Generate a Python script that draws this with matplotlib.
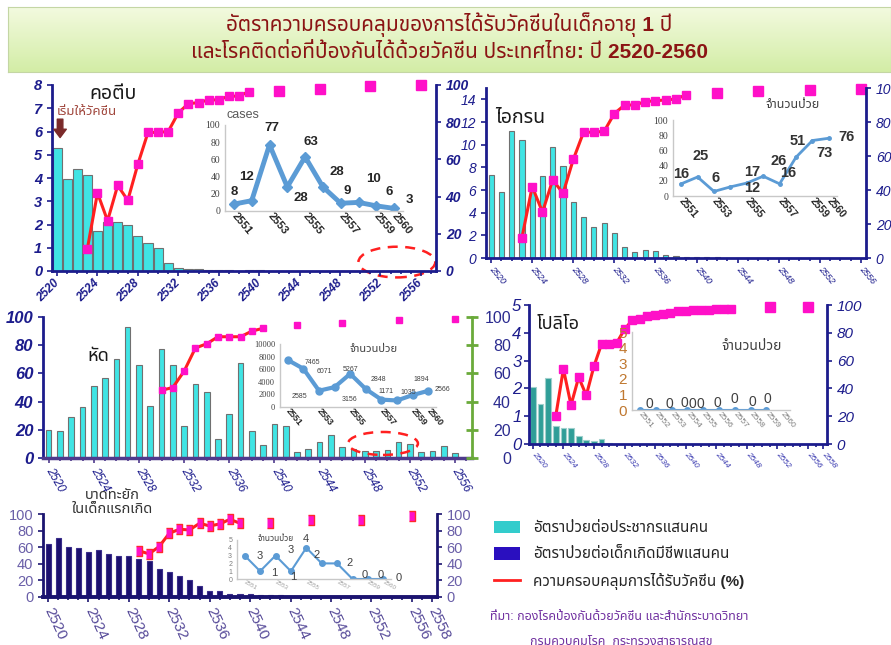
import numpy as np
import matplotlib
matplotlib.use("Agg")
import matplotlib.pyplot as plt
from matplotlib import font_manager
from matplotlib.ft2font import FT2Font
from matplotlib.patches import Ellipse, Patch
from matplotlib.lines import Line2D


def thai_family():
    found = []
    for entry in font_manager.fontManager.ttflist:
        try:
            if 0x0E01 in FT2Font(entry.fname).get_charmap():
                found.append(entry.name)
        except Exception:
            pass
    for pref in ("Noto Sans Thai", "Noto Sans Thai UI", "Loma", "Garuda", "Tlwg Typo"):
        if pref in found:
            return pref
    return found[0] if found else "DejaVu Sans"


TH = thai_family()
plt.rcParams["font.family"] = ["Liberation Sans", TH, "DejaVu Sans"]
NARROW = ["Liberation Sans Narrow", "Liberation Sans", TH]

# ---- incidence rates (bars), 2520-2556 ----
bar_years = list(range(2520, 2557))
dip_rate = [5.3, 3.95, 4.4, 4.15, 1.7, 2.1, 2.1, 2.0, 1.5, 1.2, 1.0, 0.35, 0.12,
            0.08, 0.07, 0.04, 0.03, 0.03, 0.02, 0.05, 0.03, 0.02, 0.02, 0.01, 0.01,
            0.01, 0.01, 0.01, 0.01, 0.01, 0.01, 0.01, 0.02, 0.02, 0.01, 0.01, 0.01]
per_rate = [7.3, 5.85, 11.25, 10.4, 6.1, 7.2, 9.8, 8.1, 4.95, 3.6, 2.75, 3.05, 2.2,
            0.95, 0.55, 0.7, 0.6, 0.25, 0.15, 0.08, 0.05, 0.05, 0.05, 0.03, 0.03,
            0.02, 0.02, 0.02, 0.02, 0.03, 0.02, 0.02, 0.03, 0.02, 0.02, 0.02, 0.02]
mea_rate = [20, 19.3, 29.4, 36.5, 51, 56.5, 70, 93, 66, 37, 77.6, 66, 22.4, 52.5,
            46.6, 13.6, 31, 67.5, 18.8, 9, 24, 23, 4.2, 6.4, 11.3, 16.5, 7.5, 6.6,
            5.2, 4.7, 6, 11, 9.9, 4, 5.2, 8.2, 3.8]
pol_rate = [2.06, 1.44, 2.39, 0.65, 0.56, 0.56, 0.29, 0.14, 0.12, 0.18, 0.02, 0.01,
            0.01, 0, 0, 0, 0, 0, 0, 0, 0, 0, 0, 0, 0, 0, 0, 0, 0, 0, 0, 0, 0, 0,
            0, 0, 0]
nt_rate = [64, 71.6, 60.8, 58.8, 54.8, 56.8, 51.6, 50, 50, 46, 42.8, 33.6, 29.6,
           24.8, 20.8, 13.6, 7.6, 7.6, 4, 3.6, 3.6, 2.8, 2.8, 2.2, 1.8, 1.4, 1.2,
           1.0, 0.8, 0.6, 0.5, 0.4, 0.4, 0.3, 0.3, 0.2, 0.2]

# ---- vaccine coverage (%) ----
dtp_years = list(range(2523, 2540))
dip_cov = [12, 42, 27, 46, 38, 57.5, 74.5, 74.5, 75, 85, 90, 90.5, 92, 92, 94, 94, 96.5]
per_cov = [12, 42, 27, 46, 38, 58, 74, 74, 74.5, 85, 90, 90, 92, 92.5, 93, 93.5, 96]
mea_years = list(range(2530, 2540))
mea_cov = [48, 50, 61.6, 78, 81, 86, 86, 86, 90, 92]
pol_years = list(range(2523, 2547))
pol_cov = [20, 54, 28, 48, 35, 56, 72, 72, 73, 82.5, 89, 89.7, 92, 92.6, 93.3, 94,
           96, 96, 96.4, 96.4, 96.5, 97, 97, 97]
tt_years = list(range(2529, 2540))
tt_cov = [55.6, 52, 60.8, 76.8, 81.6, 80.8, 88.8, 85.6, 88, 93.6, 88.8]

survey_years = [2542, 2546, 2551, 2556]
dip_survey = [97, 98, 99.6, 100]
per_survey = [97, 98, 99, 99.6]
mea_survey = [94, 96, 97.6, 98.4]
tt_survey = [88.8, 92.8, 92.8, 97.6]
pol_survey_years = [2551, 2556]
pol_survey = [98.8, 98.8]

# ---- reported cases 2551-2560 ----
case_years = list(range(2551, 2561))
dip_cases = [8, 12, 77, 28, 63, 28, 9, 10, 6, 3]
per_cases = [16, 25, 6, 12, 17, 26, 16, 51, 73, 76]
mea_cases = [7465, 6071, 2585, 3156, 5267, 2848, 1171, 1035, 1894, 2566]
pol_case_years = list(range(2551, 2560))
pol_cases = [0, 0, 0, 0, 0, 0, 0, 0, 0]
nt_cases = [3, 1, 3, 1, 4, 2, 2, 0, 0, 0]

tick_years = list(range(2520, 2557, 4))
inset_ticks = [2551, 2553, 2555, 2557, 2559, 2560]

NAVY = "#1c1c8c"
PINK = "#ff10c8"
RED = "#ff2020"
CYAN = "#40e4e4"
INSET = "#5b9bd5"
GREY = "#404040"

W, H = 891.0, 645.0
fig = plt.figure(figsize=(8.91, 6.45), dpi=100)


def box(left, top, right, bottom):
    return [left / W, 1 - bottom / H, (right - left) / W, (bottom - top) / H]


def combo(rect, last_year, rates, width, fc, ec, lmax, spine=NAVY):
    ax = fig.add_axes(box(*rect))
    ax.bar(bar_years, rates, width=width, color=fc, edgecolor=ec, linewidth=0.8)
    ax.set_xlim(bar_years[0] - 0.5, last_year + 0.5)
    ax.set_ylim(0, lmax)
    ax.spines["top"].set_visible(False)
    ax.spines["right"].set_visible(False)
    for s in ("left", "bottom"):
        ax.spines[s].set_color(spine)
        ax.spines[s].set_linewidth(2)
    ax.set_xticks(np.arange(bar_years[0], last_year + 1), minor=True)
    ax.tick_params(which="both", color=spine, width=1.2)
    ax.tick_params(which="minor", length=2.5)
    rt = ax.twinx()
    rt.set_ylim(0, 100)
    for s in ("left", "bottom", "top"):
        rt.spines[s].set_visible(False)
    rt.spines["right"].set_color(spine)
    rt.spines["right"].set_linewidth(2)
    rt.tick_params(color=spine, width=1.2)
    return ax, rt


def coverage(rt, years, cov, s_years, s_cov, ms=6, marker="s", mec=PINK):
    rt.plot(years, cov, color=RED, lw=2.2, marker=marker, ms=ms, mfc=PINK, mec=mec,
            zorder=3, clip_on=False)
    rt.plot(s_years, s_cov, ls="none", marker=marker, ms=ms + 0.5, mfc=PINK, mec=mec,
            clip_on=False)


def year_labels(ax, ticks, size, rot, color, pad=3, **kw):
    ax.set_xticks(ticks)
    ax.set_xticklabels([str(t) for t in ticks], fontsize=size, color=color,
                       rotation=rot, rotation_mode="anchor",
                       ha="right" if rot > 0 else "left", va="center", **kw)
    ax.tick_params(axis="x", pad=pad)


def value_labels(ax, ticks, size, color, **kw):
    ax.set_yticks(ticks)
    ax.set_yticklabels([str(t) for t in ticks], fontsize=size, color=color, **kw)


def inset(rect, xlim, ymax, ystep):
    ins = fig.add_axes(box(*rect))
    ins.patch.set_alpha(0)
    ins.set_xlim(*xlim)
    ins.set_ylim(0, ymax)
    for s in ("top", "right"):
        ins.spines[s].set_visible(False)
    for s in ("left", "bottom"):
        ins.spines[s].set_color("#c8c8c8")
        ins.spines[s].set_linewidth(1)
    ins.tick_params(length=0)
    ins.set_yticks(np.arange(0, ymax + 1, ystep))
    return ins


def point_labels(ins, years, vals, offsets, size, color, weight="normal"):
    for yr, v, (dx, dy) in zip(years, vals, offsets):
        ins.annotate(str(v), (yr, v), xytext=(dx, dy), textcoords="offset points",
                     ha="center", va="center", fontsize=size, color=color,
                     fontweight=weight)


# ---- title banner ----
ban = fig.add_axes(box(8, 7, 891, 72))
grad = np.linspace(0, 1, 64).reshape(-1, 1)
ban.imshow(grad, aspect="auto", extent=(0, 1, 0, 1),
           cmap=matplotlib.colors.LinearSegmentedColormap.from_list(
               "band", ["#f3fadf", "#d3eda6"]))
ban.set_xticks([])
ban.set_yticks([])
for s in ban.spines.values():
    s.set_color("#c4d6a4")
ban.text(0.5, 0.73, "อัตราความครอบคลุมของการได้รับวัคซีนในเด็กอายุ 1 ปี",
         ha="center", va="center", fontsize=15, fontweight="bold", color="#8b1414",
         transform=ban.transAxes)
ban.text(0.5, 0.3, "และโรคติดต่อที่ป้องกันได้ด้วยวัคซีน ประเทศไทย: ปี 2520-2560",
         ha="center", va="center", fontsize=15, fontweight="bold", color="#8b1414",
         transform=ban.transAxes)

# ---- diphtheria ----
ax1, rt1 = combo((52, 85, 436, 271), 2557, dip_rate, 0.9, CYAN, "#707070", 8)
coverage(rt1, dtp_years, dip_cov, survey_years, dip_survey)
value_labels(ax1, range(0, 9), 10.5, NAVY, fontweight="bold", fontstyle="italic")
value_labels(rt1, range(0, 101, 20), 10, NAVY, fontweight="bold", fontstyle="italic")
year_labels(ax1, tick_years, 8.5, 45, NAVY, pad=4, fontweight="bold", fontstyle="italic")
ax1.text(0.16, 0.95, "คอตีบ", transform=ax1.transAxes, fontsize=14,
         fontweight="bold", color="#1a1a1a", va="center", ha="center")
ax1.annotate("", xy=(2520.3, 5.62), xytext=(2520.3, 6.65),
             arrowprops=dict(arrowstyle="simple,head_width=0.9,head_length=0.6,tail_width=0.4",
                             color="#7b2a2a"))
ax1.text(2520.0, 6.85, "เริ่มให้วัคซีน", fontsize=9.5, color="#a0463c", va="center")
ax1.add_patch(Ellipse((0.898, 0.048), 0.2, 0.165, transform=ax1.transAxes,
                      fill=False, ec="#ff2020", ls=(0, (4, 3)), lw=1.8, clip_on=False))

in1 = inset((225, 125, 403, 211), (2550.5, 2560.5), 100, 20)
in1.plot(case_years, dip_cases, color=INSET, lw=3.5, marker="D", ms=5)
in1.set_yticklabels([str(t) for t in range(0, 101, 20)], fontsize=7, color=GREY,
                    family="Liberation Serif")
year_labels(in1, inset_ticks, 8, -50, "#262626", pad=2, fontweight="bold")
point_labels(in1, case_years, dip_cases,
             [(0, 9), (-4, 17), (2, 12), (10, -8), (4, 11), (10, 11), (5, 9), (11, 17),
              (9, 10), (11, 6)], 9.5, "#262626", "bold")
in1.text(0.01, 1.12, "cases", transform=in1.transAxes, fontsize=9, color="#595959",
         va="center")

# ---- pertussis ----
ax2, rt2 = combo((486, 88, 866, 258), 2556, per_rate, 0.5, CYAN, "#707070", 15)
coverage(rt2, dtp_years, per_cov, survey_years, per_survey)
value_labels(ax2, range(0, 15, 2), 10, NAVY, fontstyle="italic", family=NARROW)
value_labels(rt2, range(0, 101, 20), 10, NAVY, fontstyle="italic", family=NARROW)
year_labels(ax2, tick_years, 6.5, -50, NAVY, pad=3, fontstyle="italic")
ax2.text(0.09, 0.82, "ไอกรน", transform=ax2.transAxes, fontsize=14,
         color="#1a1a1a", va="center", ha="center", fontweight="bold")

in2 = inset((673, 120, 837, 196), (2550.5, 2560.5), 100, 20)
in2.plot(case_years, per_cases, color=INSET, lw=2, marker="o", ms=2.5)
in2.set_yticklabels([str(t) for t in range(0, 101, 20)], fontsize=7, color=GREY,
                    family="Liberation Serif")
year_labels(in2, inset_ticks, 7.5, -50, "#262626", pad=2, fontweight="bold")
point_labels(in2, case_years, per_cases,
             [(0, 7), (2, 15), (1, 10), (16, -1), (4, 8), (11, 11), (6, 8), (1, 12),
              (9, -9), (13, 1)], 10.5, "#333333", "bold")
in2.text(0.73, 1.2, "จำนวนป่วย", transform=in2.transAxes, fontsize=9,
         color="#404040", va="center", ha="center")

# ---- measles ----
ax3, rt3 = combo((43, 317, 472, 458), 2557, mea_rate, 0.5, CYAN, "#707070", 100)
ax3.spines["bottom"].set_color("#4e3a8c")
ax3.spines["bottom"].set_linewidth(2.5)
ax3.tick_params(axis="x", which="both", color="#4e3a8c")
rt3.spines["right"].set_color("#6aaa3a")
rt3.tick_params(axis="y", color="#6aaa3a", direction="inout", length=8, width=2,
                labelright=False)
rt3.set_yticks(range(0, 101, 20))
coverage(rt3, mea_years, mea_cov, survey_years, mea_survey, ms=4.5)
value_labels(ax3, range(0, 101, 20), 12, NAVY, fontweight="bold", fontstyle="italic")
year_labels(ax3, tick_years, 8.5, -60, NAVY, pad=4, fontstyle="italic")
ax3.text(0.13, 0.72, "หัด", transform=ax3.transAxes, fontsize=13,
         fontweight="bold", color="#1a1a1a", va="center", ha="center")
ax3.add_patch(Ellipse((0.7925, 0.103), 0.163, 0.163, transform=ax3.transAxes,
                      fill=False, ec="#ff2020", ls=(0, (4, 3)), lw=1.8, clip_on=False))

in3 = inset((280, 344, 436, 407), (2550.5, 2560.5), 10000, 2000)
in3.plot(case_years, mea_cases, color=INSET, lw=3, marker="o", ms=5)
in3.set_yticklabels([str(t) for t in range(0, 10001, 2000)], fontsize=6, color=GREY,
                    family="Liberation Serif")
year_labels(in3, inset_ticks, 6.5, -50, "#262626", pad=2, fontweight="bold")
point_labels(in3, case_years, mea_cases,
             [(18, -2), (15, -2), (-14, -4), (11, -9), (0, 3), (9, 7), (3, 6), (8, 6),
              (6, 11), (10, 1)], 5, "#404040")
in3.text(0.6, 0.92, "จำนวนป่วย", transform=in3.transAxes, fontsize=8,
         color="#404040", va="center", ha="center")

# ---- polio ----
ax4, rt4 = combo((529, 305, 827, 444), 2558, pol_rate, 0.75, "#2f9e98", "#9fd0cc", 5)
coverage(rt4, pol_years, pol_cov, pol_survey_years, pol_survey)
value_labels(ax4, range(0, 6), 12, NAVY, fontstyle="italic", family=NARROW)
ax4.tick_params(axis="y", pad=2)
value_labels(rt4, range(0, 101, 20), 11, NAVY, fontstyle="italic", family=NARROW)
year_labels(ax4, tick_years + [2558], 6, -50, "#3a3ab0", pad=3, fontstyle="italic")
ax4.text(0.1, 0.86, "โปลิโอ", transform=ax4.transAxes, fontsize=13,
         color="#1a1a1a", va="center", ha="center")

outer = fig.add_axes(box(529, 317, 827, 458))
outer.patch.set_alpha(0)
outer.set_ylim(0, 100)
outer.set_xticks([])
for s in outer.spines.values():
    s.set_visible(False)
outer.tick_params(axis="y", length=0, pad=13)
value_labels(outer, range(0, 101, 20), 11.5, "#2b2b8f", family=NARROW)

in4 = inset((632, 332, 790, 410), (2550.5, 2560.5), 5, 1)
in4.plot(pol_case_years, pol_cases, color=INSET, lw=1.5, marker="o", ms=4)
in4.set_yticklabels([str(t) for t in range(0, 6)], fontsize=11, color="#c07830")
year_labels(in4, case_years, 6, -50, "#7f7f7f", pad=2)
point_labels(in4, pol_case_years, pol_cases,
             [(7, 4), (10, 4), (9, 5), (4, 4), (-2, 4), (-1, 5), (0, 8), (1, 6),
              (1, 8)], 10, "#404040")
in4.text(0.76, 0.82, "จำนวนป่วย", transform=in4.transAxes, fontsize=10,
         color="#404040", va="center", ha="center")

# ---- neonatal tetanus ----
ax5, rt5 = combo((43, 514, 437, 597), 2558, nt_rate, 0.5, "#1b0f6e", "#3a2d8a", 100,
                 spine="#1b1470")
ax5.spines["bottom"].set_linewidth(2.8)
coverage(rt5, tt_years, tt_cov, survey_years, tt_survey, ms=7,
         marker=[(-0.55, -1), (0.55, -1), (0.55, 1), (-0.55, 1)], mec="#ff2a2a")
value_labels(ax5, range(0, 101, 20), 10.5, "#6a5fa8", family=NARROW)
value_labels(rt5, range(0, 101, 20), 10.5, "#6a5fa8", family=NARROW)
year_labels(ax5, tick_years + [2558], 11, -65, "#574b99", pad=5, family=NARROW)
fig.text(112 / W, 1 - 502 / H, "บาดทะยัก\nในเด็กแรกเกิด", fontsize=10.5,
         color="#333333", ha="center", va="center", linespacing=1.0)

in5 = inset((237, 540, 391, 579), (2550.5, 2560.5), 5, 1)
in5.plot(case_years, nt_cases, color=INSET, lw=1.5, marker="o", ms=4)
in5.set_yticklabels([str(t) for t in range(0, 6)], fontsize=5, color="#7f7f7f")
year_labels(in5, inset_ticks, 4.5, -30, "#9f9f9f", pad=2)
point_labels(in5, case_years, nt_cases,
             [(11, 0), (10, -1), (11, 4), (2, -4), (0, 6), (-4, 6), (9, 0), (9, 3),
              (9, 3), (11, 1)], 8, "#404040")
in5.text(0.25, 1.03, "จำนวนป่วย", transform=in5.transAxes, fontsize=6,
         color="#404040", va="center", ha="center")

# ---- legend and source ----
handles = [Patch(facecolor="#33cccc"), Patch(facecolor="#2a0fbf"),
           Line2D([], [], color="#ff2020", lw=2)]
labels = ["อัตราป่วยต่อประชากรแสนคน", "อัตราป่วยต่อเด็กเกิดมีชีพแสนคน",
          "ความครอบคลุมการได้รับวัคซีน (%)"]
fig.legend(handles, labels, loc="upper left", bbox_to_anchor=(480 / W, 1 - 507 / H),
           frameon=False, prop=dict(size=11, weight="bold"), labelcolor="#262626",
           handlelength=1.7, handleheight=0.9, labelspacing=0.75, handletextpad=0.9)
fig.text(490 / W, 1 - 617 / H, "ที่มา: กองโรคป้องกันด้วยวัคซีน และสำนักระบาดวิทยา",
         fontsize=9, color="#7030a0", va="center")
fig.text(530 / W, 1 - 641 / H, "กรมควบคุมโรค  กระทรวงสาธารณสุข",
         fontsize=9, color="#7030a0", va="center")

fig.savefig("out.png", dpi=100)
